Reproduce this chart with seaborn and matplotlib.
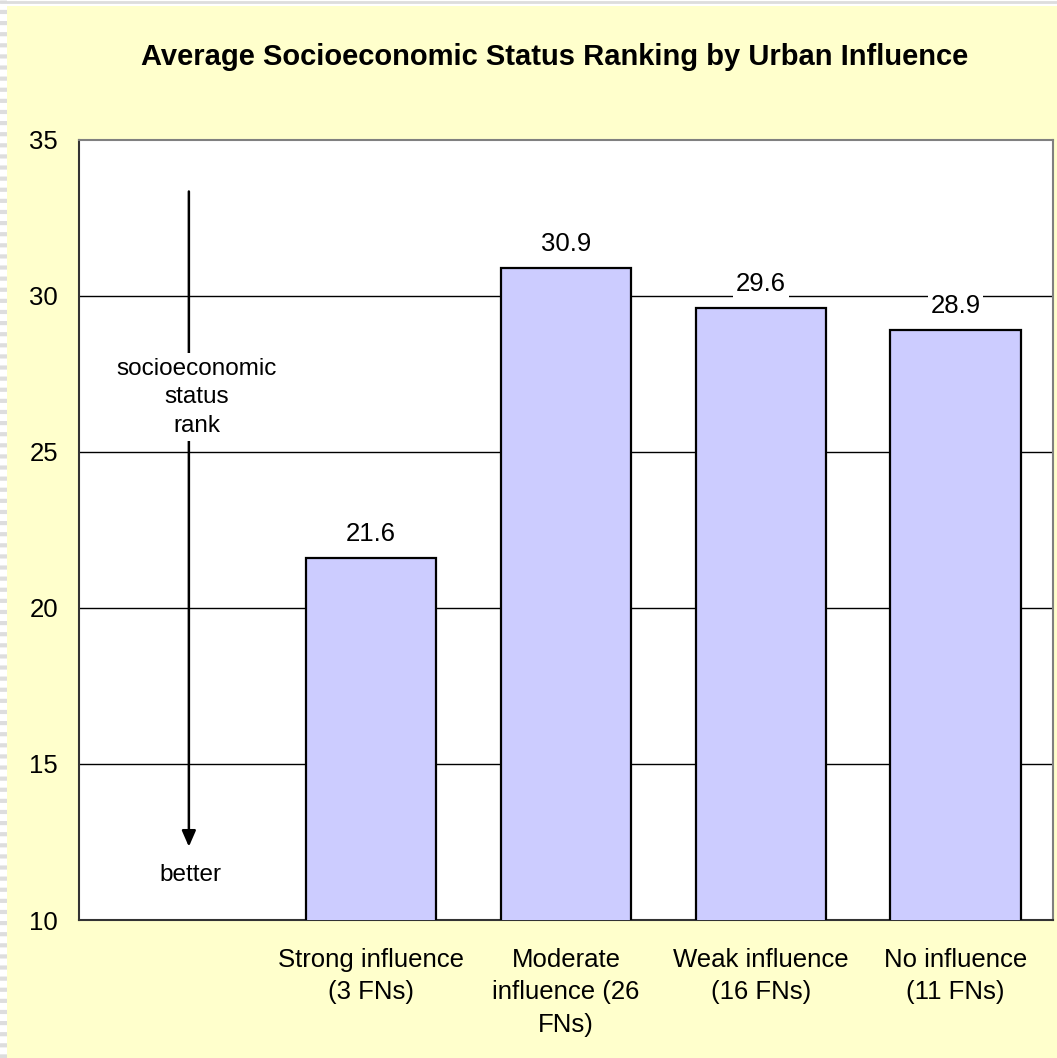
import numpy as np
import pandas as pd
import matplotlib
matplotlib.use("Agg")
import matplotlib.pyplot as plt
import seaborn as sns
from matplotlib.ticker import FixedLocator
from matplotlib.patches import Rectangle
from matplotlib.lines import Line2D

categories = ["", "Strong influence\n(3 FNs)", "Moderate\ninfluence (26\nFNs)",
              "Weak influence\n(16 FNs)", "No influence\n(11 FNs)"]
bar_categories = categories[1:]
values = [21.6, 30.9, 29.6, 28.9]
value_labels = ["21.6", "30.9", "29.6", "28.9"]
yticks = [10, 15, 20, 25, 30, 35]
title = "Average Socioeconomic Status Ranking by Urban Influence"

sns.set_theme(style="white")
plt.rcParams['font.family'] = ['Liberation Sans', 'DejaVu Sans']
plt.rcParams['text.color'] = 'black'
plt.rcParams['xtick.color'] = 'black'
plt.rcParams['ytick.color'] = 'black'

W, H = 1057, 1058
fig = plt.figure(figsize=(W / 100, H / 100), dpi=100)
fig.patch.set_facecolor("#FFFFCC")

# window-like border strips (decoration)
fig.patches.append(Rectangle((0, 1 - 6 / H), 1, 6 / H, transform=fig.transFigure,
                             facecolor="white", edgecolor="none", zorder=0))
fig.patches.append(Rectangle((0, 0), 7 / W, 1, transform=fig.transFigure,
                             facecolor="white", edgecolor="none", zorder=0))
fig.lines.append(Line2D([0, 1], [1 - 1.5 / H, 1 - 1.5 / H], transform=fig.transFigure,
                        color="#DDDDDD", linewidth=2))
fig.lines.append(Line2D([3 / W, 3 / W], [0, 1], transform=fig.transFigure,
                        color="#DDDDDD", linewidth=5, linestyle=(0, (0.6, 1.0))))

ax = fig.add_axes([79 / W, 1 - 920 / H, (1053 - 79) / W, (920 - 140) / H])
ax.set_facecolor("white")

df = pd.DataFrame({"cat": bar_categories, "val": values})
sns.barplot(data=df, x="cat", y="val", order=categories, color="#CCCCFF",
            saturation=1, width=0.67, edgecolor="black", linewidth=1.6, ax=ax, zorder=3)

fs = 18.5
ax.set_ylim(10, 35)
ax.set_xlim(-0.5, len(categories) - 0.5)
ax.set_yticks(yticks)
ax.set_yticklabels([str(t) for t in yticks], fontsize=fs)
ax.tick_params(axis="y", direction="out", length=6, width=1, color="#444444", pad=9)
ax.tick_params(axis="x", which="major", length=0, pad=20, labelsize=fs)
ax.xaxis.set_minor_locator(FixedLocator([i + 0.5 for i in range(len(categories) - 1)]))
ax.tick_params(axis="x", which="minor", direction="in", length=6, width=1, color="#444444")
ax.set_xlabel("")
ax.set_ylabel("")
for lab in ax.get_xticklabels():
    lab.set_linespacing(1.45)

for y in yticks[1:-1]:
    ax.axhline(y, color="black", linewidth=1, zorder=1)

for s in ["left", "bottom", "top", "right"]:
    ax.spines[s].set_visible(True)
    ax.spines[s].set_linewidth(1.5)
ax.spines["left"].set_color("#333333")
ax.spines["bottom"].set_color("#333333")
ax.spines["top"].set_color("#808080")
ax.spines["right"].set_color("#808080")

for i, (v, t) in enumerate(zip(values, value_labels)):
    ax.text(i + 1, v + 0.78, t, ha="center", va="center", fontsize=fs,
            bbox=dict(facecolor="white", edgecolor="none", pad=2), zorder=4)

# arrow annotation
ax.annotate("", xy=(0.064, 12.35), xytext=(0.064, 33.35),
            arrowprops=dict(arrowstyle="-|>,head_length=0.8,head_width=0.35",
                            color="black", lw=1.8, shrinkA=0, shrinkB=0), zorder=2)
ax.text(0.105, 26.75, "socioeconomic\nstatus\nrank", ha="center", va="center",
        fontsize=17.5, linespacing=1.4,
        bbox=dict(facecolor="white", edgecolor="none", pad=3), zorder=4)
ax.text(0.074, 11.45, "better", ha="center", va="center", fontsize=17.5, zorder=4)

fig.text(0.525, 1 - 57 / H, title, ha="center", va="center", fontsize=21,
         fontweight="bold")

fig.savefig("out.png", dpi=100, facecolor=fig.get_facecolor())
